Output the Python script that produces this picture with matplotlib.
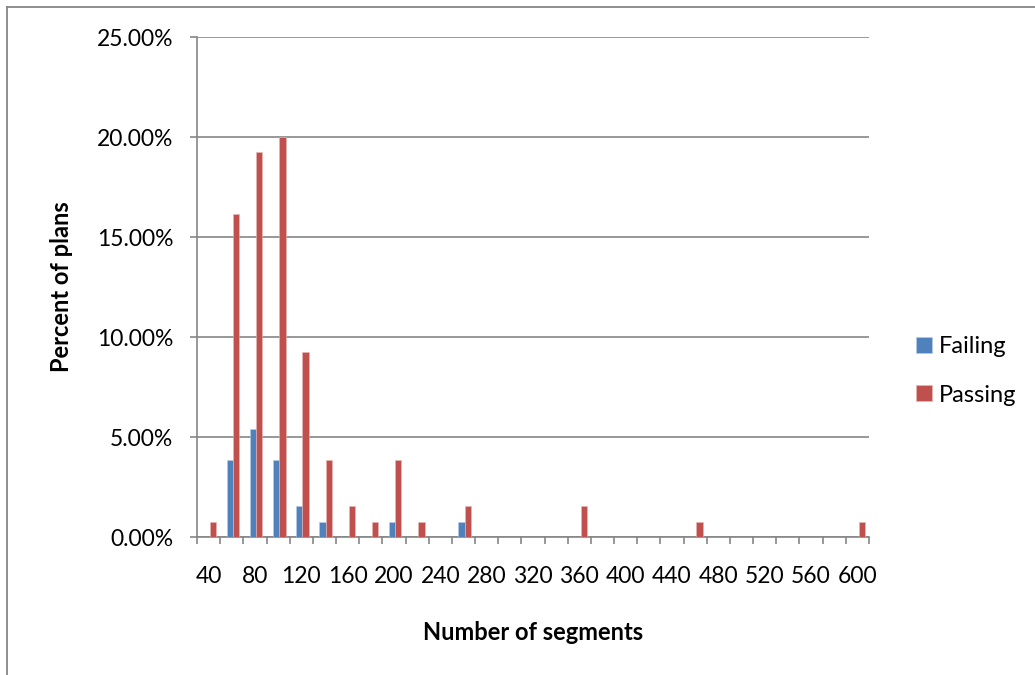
import matplotlib
matplotlib.use("Agg")
import matplotlib.pyplot as plt
import numpy as np
from matplotlib.lines import Line2D

plt.rcParams['font.family'] = ['Lato', 'DejaVu Sans']

# number of segments (bins)
segments = [40, 60, 80, 100, 120, 140, 160, 180, 200, 220, 240, 260, 280, 300,
            320, 340, 360, 380, 400, 420, 440, 460, 480, 500, 520, 540, 560, 580, 600]
# percent of plans
failing = [0, 3.85, 5.38, 3.85, 1.54, 0.77, 0, 0, 0.77, 0, 0, 0.77, 0, 0,
           0, 0, 0, 0, 0, 0, 0, 0, 0, 0, 0, 0, 0, 0, 0]
passing = [0.77, 16.15, 19.23, 20.0, 9.23, 3.85, 1.54, 0.77, 3.85, 0.77, 0, 1.54, 0, 0,
           0, 0, 1.54, 0, 0, 0, 0, 0.77, 0, 0, 0, 0, 0, 0, 0.77]

blue = '#4F81BD'
red = '#C0504D'
grey = '#868686'

fig = plt.figure(figsize=(10.35, 6.75), dpi=100)
ax = fig.add_axes([197/1035, 1-537/675, 672/1035, 500/675])

x = np.arange(len(segments))
w = 0.27
ax.bar(x - w/2 + 0.05, failing, w, color=blue, edgecolor='#B9CDE5', linewidth=0.4, label='Failing', zorder=3)
ax.bar(x + w/2 + 0.05, passing, w, color=red, edgecolor='#E6B9B8', linewidth=0.4, label='Passing', zorder=3)

ax.set_xlim(-0.5, len(segments) - 0.5)
ax.set_ylim(0, 25)
ax.set_yticks([0, 5, 10, 15, 20, 25])
ax.set_yticklabels(['%.2f%%' % v for v in [0, 5, 10, 15, 20, 25]])
ax.yaxis.grid(True, color=grey, linewidth=1.2, zorder=0)

ax.set_xticks(np.arange(len(segments) + 1) - 0.5)
ax.set_xticklabels([])
ax.set_xticks(x[::2], minor=True)
ax.set_xticklabels([str(s) for s in segments[::2]], minor=True)
ax.tick_params(axis='x', which='major', length=5, width=1.2, color=grey, direction='out')
ax.tick_params(axis='x', which='minor', length=0, pad=21, labelsize=16.5)
ax.tick_params(axis='y', length=5, width=1.2, color=grey, labelsize=16.5, pad=12)

for s in ['top', 'right']:
    ax.spines[s].set_visible(False)
for s in ['left', 'bottom']:
    ax.spines[s].set_color(grey)
    ax.spines[s].set_linewidth(1.2)

ax.set_xlabel('Number of segments', fontsize=17, fontweight='bold', labelpad=24)
ax.set_ylabel('Percent of plans', fontsize=17, fontweight='bold', labelpad=17)

fig.legend(loc='center left', bbox_to_anchor=(907/1035, 1-371/675), frameon=False,
           fontsize=17, handlelength=0.64, handleheight=0.64, handletextpad=0.3,
           labelspacing=1.15, borderaxespad=0)

# outer chart frame (partially cropped)
fig.add_artist(Line2D([7/1035, 7/1035], [0, 1-7/675], color=grey, linewidth=1.3))
fig.add_artist(Line2D([7/1035, 1], [1-7/675, 1-7/675], color=grey, linewidth=1.3))

fig.savefig('out.png', dpi=100)
